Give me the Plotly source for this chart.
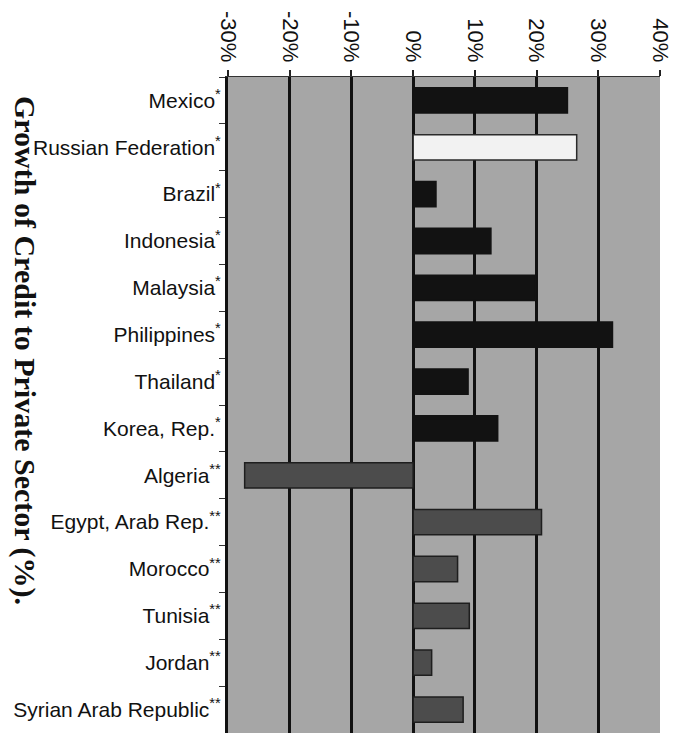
import plotly.graph_objects as go

countries = ["Mexico", "Russian Federation", "Brazil", "Indonesia", "Malaysia",
             "Philippines", "Thailand", "Korea, Rep.", "Algeria", "Egypt, Arab Rep.",
             "Morocco", "Tunisia", "Jordan", "Syrian Arab Republic"]
marks = ["*", "*", "*", "*", "*", "*", "*", "*", "**", "**", "**", "**", "**", "**"]
growth = [25.0, 26.5, 3.7, 12.6, 19.8, 32.3, 8.9, 13.7, -27.3, 20.8, 7.2, 9.1, 3.0, 8.1]
groups = ["black", "white", "black", "black", "black", "black", "black", "black",
          "gray", "gray", "gray", "gray", "gray", "gray"]
tick_vals = [-30, -20, -10, 0, 10, 20, 30, 40]
tick_text = ["-30%", "-20%", "-10%", "0%", "10%", "20%", "30%", "40%"]
title_text = "Growth of Credit to Private Sector (%)."

fill_map = {"black": "#121212", "white": "#f2f2f2", "gray": "#4c4c4c"}
line_map = {"black": "#121212", "white": "#2a2a2a", "gray": "#1e1e1e"}

labels = [f"{c}<sup>{m}</sup>" for c, m in zip(countries, marks)]

# page has an 8px body margin; figure sized/offset to compensate
OFF = 8
W, H = 677 - OFF, 733 - OFF
ML, MR, MT, MB = 228 - OFF, 17, 77 - OFF, 0

fig = go.Figure()
fig.add_trace(go.Bar(
    y=labels, x=growth, orientation="h",
    marker=dict(color=[fill_map[g] for g in groups],
                line=dict(color=[line_map[g] for g in groups], width=1.5)),
    width=0.54,
))

fig.update_layout(
    width=W, height=H,
    margin=dict(l=ML, r=MR, t=MT, b=MB, autoexpand=False),
    paper_bgcolor="white",
    plot_bgcolor="#a6a6a6",
    showlegend=False,
    font=dict(family="Liberation Sans, Arial, sans-serif", size=21, color="#111"),
    xaxis=dict(
        side="top", range=[-30, 40], tickvals=tick_vals, ticktext=tick_text,
        tickangle=90, tickfont=dict(size=22, color="#111"), automargin=False,
        showgrid=True, gridcolor="#111", gridwidth=2.5,
        zeroline=True, zerolinecolor="#111", zerolinewidth=3,
        showline=True, linecolor="#333", linewidth=1, mirror=False,
        ticks="outside", ticklen=6, tickcolor="#222", tickwidth=1.5,
    ),
    yaxis=dict(
        autorange="reversed", type="category", automargin=False,
        tickfont=dict(size=21, color="#111"),
        showline=True, linecolor="#111", linewidth=3,
        ticks="outside", tickson="boundaries", ticklen=6, tickcolor="#333",
        showgrid=False,
    ),
    annotations=[dict(
        text=f"<b>{title_text}</b>", textangle=90,
        x=0, xref="paper", xanchor="center", xshift=-(ML - (25 - OFF)),
        y=(H - (350 - OFF) - MB) / (H - MT - MB), yref="paper", yanchor="middle",
        showarrow=False,
        font=dict(family="Liberation Serif, Times New Roman, serif", size=30, color="#111"),
    )],
)

fig.write_html("out.html")
